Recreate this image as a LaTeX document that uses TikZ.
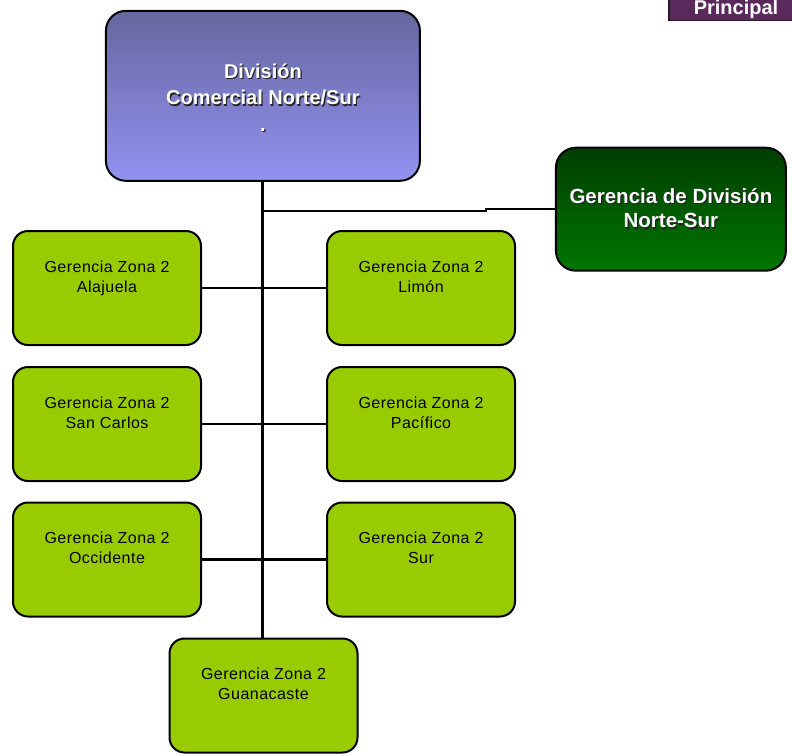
\documentclass[tikz,border=0pt]{standalone}
\usepackage{fontspec}
\setmainfont{Liberation Sans}
\newfontfamily\zonefont[LetterSpace=3]{Liberation Sans}
\usetikzlibrary{calc}

\definecolor{zonegreen}{RGB}{153,204,0}
\definecolor{divtop}{RGB}{102,102,158}
\definecolor{divbottom}{RGB}{146,146,242}
\definecolor{mgrtop}{RGB}{0,62,0}
\definecolor{mgrbottom}{RGB}{0,118,0}
\definecolor{tabpurple}{RGB}{90,40,90}
\definecolor{tabborder}{RGB}{45,20,45}
\definecolor{txtshadow}{RGB}{35,35,35}

% white caption with a soft dark drop shadow
\newcommand\shadowed[1]{\rlap{\kern1.2pt\raisebox{-1.2pt}{\textcolor{txtshadow}{#1}}}#1}
% two-line caption of a zone box, set a little above the box centre
\newcommand\zonelabel[1]{\rule{0pt}{14pt}Gerencia Zona 2\\#1\rule[-25.2pt]{0pt}{25.2pt}}

\tikzset{
  boxline/.style={draw=black, line width=2pt},
  division/.style={boxline, rounded corners=20pt, top color=divtop, bottom color=divbottom,
    minimum width=314pt, minimum height=170pt, align=center, text=white,
    font=\fontsize{20}{26.6}\selectfont\bfseries},
  manager/.style={boxline, rounded corners=20pt, top color=mgrtop, bottom color=mgrbottom,
    minimum width=230pt, minimum height=123pt, align=center, text=white,
    font=\fontsize{20.5}{24.5}\selectfont\bfseries},
  zone/.style={boxline, rounded corners=15pt, fill=zonegreen,
    minimum width=188pt, minimum height=114pt, align=center, text=black,
    font=\zonefont\fontsize{16}{20}\selectfont},
  link/.style={draw=black, line width=2.2pt},
  trunk/.style={draw=black, line width=3pt},
  tab/.style={fill=tabpurple, draw=tabborder, line width=1.2pt},
  tabtext/.style={text=white, font=\fontsize{20}{24}\selectfont\bfseries, inner sep=0pt}
}

\begin{document}
\begin{tikzpicture}[x=1pt, y=-1pt]
  \useasboundingbox (0,0) rectangle (792,755);

  % tab in the top right corner
  \path[tab] (669,-6) rectangle (800,20.5);
  \node[tabtext, anchor=base] (principal) at (736,14.5) {Principal};

  % main boxes
  \node[division] (division) at (262.9,95.8)
    {\rule{0pt}{20pt}\shadowed{División}\\\shadowed{Comercial Norte/Sur}\\\shadowed{.}\rule[-1.8pt]{0pt}{1.8pt}};
  \node[manager] (gerencia) at (670.9,209.2)
    {\rule{0pt}{20pt}\shadowed{Gerencia de División}\\\shadowed{Norte-Sur}\rule[-7.3pt]{0pt}{7.3pt}};

  % zone boxes
  \node[zone] (alajuela)   at (107,288)     {\zonelabel{Alajuela}};
  \node[zone] (limon)      at (421,288)     {\zonelabel{Limón}};
  \node[zone] (sancarlos)  at (107,424)     {\zonelabel{San Carlos}};
  \node[zone] (pacifico)   at (421,424)     {\zonelabel{Pacífico}};
  \node[zone] (occidente)  at (107,559.5)   {\zonelabel{Occidente}};
  \node[zone] (sur)        at (421,559.5)   {\zonelabel{Sur}};
  \node[zone] (guanacaste) at (263.5,695.5) {\zonelabel{Guanacaste}};

  % connectors
  \draw[trunk] (division.south) -- (division.south |- guanacaste.north);
  \coordinate (tap) at (division.south |- 0,211);
  \draw[link] (tap) -- ++(223,0) |- (gerencia.west);
  \draw[link] (alajuela.east)  -- (limon.west);
  \draw[link] (sancarlos.east) -- (pacifico.west);
  \draw[link] (occidente.east) -- (sur.west);
\end{tikzpicture}
\end{document}
